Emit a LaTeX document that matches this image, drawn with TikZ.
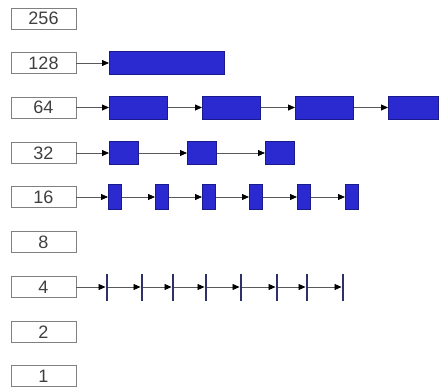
\documentclass[tikz,border=0pt]{standalone}
\usepackage{fontspec}
\setmainfont{Liberation Sans}
\usetikzlibrary{arrows.meta}
\definecolor{blk}{HTML}{2A2AD0}
\definecolor{blkedge}{HTML}{1A1A8A}
\definecolor{barc}{HTML}{303068}
\begin{document}
\begin{tikzpicture}[x=1pt,y=-1pt,
  lbl/.style={draw=black!50,line width=0.9pt,fill=white,minimum width=65pt,minimum height=21pt,inner sep=0pt,font=\fontsize{18}{18}\selectfont,text=black!75},
  blkbox/.style={draw=blkedge,line width=0.6pt,fill=blk,inner sep=0pt},
  barbox/.style={fill=barc,inner sep=0pt,minimum width=2.5pt,minimum height=27pt},
  arr/.style={draw=black!65,line width=0.8pt,-{Triangle[length=7pt,width=6pt,color=black]}}]
\useasboundingbox (0,0) rectangle (440,389);
\fill[white] (0,0) rectangle (440,389);
% label boxes
\foreach \n/\y in {256/18.5,128/63,64/107.5,32/153,16/197,8/242,4/287,2/332,1/376}
  \node[lbl] (b\n) at (43.5,\y) {\n};
% row 128
\node[blkbox,minimum width=115pt,minimum height=23pt,anchor=west] (r128a) at (109,63) {};
\draw[arr] (b128.east) -- (r128a.west);
% row 64
\foreach \i/\x/\w in {1/109/58,2/202/58,3/295/58,4/388/50}
  \node[blkbox,minimum width=\w pt,minimum height=23pt,anchor=west] (r64-\i) at (\x,107.5) {};
\draw[arr] (b64.east) -- (r64-1.west);
\foreach \i/\j in {1/2,2/3,3/4} \draw[arr] (r64-\i.east) -- (r64-\j.west);
% row 32
\foreach \i/\x in {1/109,2/187,3/265}
  \node[blkbox,minimum width=29pt,minimum height=23pt,anchor=west] (r32-\i) at (\x,153) {};
\draw[arr] (b32.east) -- (r32-1.west);
\foreach \i/\j in {1/2,2/3} \draw[arr] (r32-\i.east) -- (r32-\j.west);
% row 16
\foreach \i/\x in {1/108,2/155,3/202,4/249,5/297,6/345}
  \node[blkbox,minimum width=13pt,minimum height=25pt,anchor=west] (r16-\i) at (\x,197) {};
\draw[arr] (b16.east) -- (r16-1.west);
\foreach \i/\j in {1/2,2/3,3/4,4/5,5/6} \draw[arr] (r16-\i.east) -- (r16-\j.west);
% row 4
\foreach \i/\x in {1/107,2/142,3/173,4/206,5/241,6/277,7/307,8/343}
  \node[barbox] (r4-\i) at (\x,287) {};
\draw[arr] (b4.east) -- (r4-1.west);
\foreach \i/\j in {1/2,2/3,3/4,4/5,5/6,6/7,7/8} \draw[arr] (r4-\i.east) -- (r4-\j.west);
\end{tikzpicture}
\end{document}
